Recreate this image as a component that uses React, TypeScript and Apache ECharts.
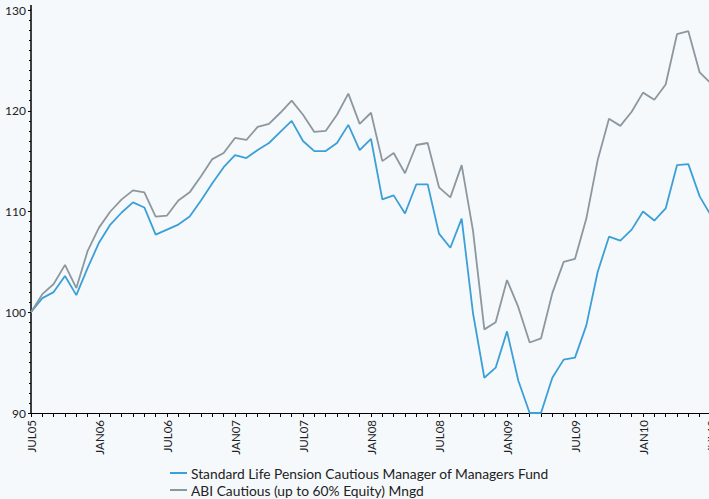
import React, { useEffect, useRef } from "react";
import * as echarts from "echarts";

const MONTHS = ["JAN", "FEB", "MAR", "APR", "MAY", "JUN", "JUL", "AUG", "SEP", "OCT", "NOV", "DEC"];
const categories: string[] = [];
for (let i = 0; i < 61; i++) {
  const m = (6 + i) % 12;
  const y = 5 + Math.floor((6 + i) / 12);
  categories.push(MONTHS[m] + String(y).padStart(2, "0"));
}

const seriesNames = [
  "Standard Life Pension Cautious Manager of Managers Fund",
  "ABI Cautious (up to 60% Equity) Mngd",
];

const standardLife = [
  100.0, 101.4, 102.0, 103.6, 101.7, 104.4, 106.9, 108.7, 109.9, 110.9, 110.4, 107.7,
  108.2, 108.7, 109.5, 111.1, 112.8, 114.4, 115.6, 115.3, 116.1, 116.8, 117.9, 119.0,
  117.0, 116.0, 116.0, 116.8, 118.6, 116.1, 117.2, 111.2, 111.6, 109.8, 112.7, 112.7,
  107.8, 106.4, 109.3, 99.9, 93.5, 94.5, 98.1, 93.2, 90.0, 90.0, 93.5, 95.3,
  95.5, 98.7, 104.0, 107.5, 107.1, 108.2, 110.0, 109.1, 110.3, 114.6, 114.7, 111.5,
  109.6,
];

const abiCautious = [
  100.0, 101.8, 102.8, 104.7, 102.4, 106.1, 108.4, 110.0, 111.2, 112.1, 111.9, 109.5,
  109.6, 111.1, 111.9, 113.5, 115.2, 115.8, 117.3, 117.1, 118.4, 118.7, 119.8, 121.0,
  119.6, 117.9, 118.0, 119.6, 121.7, 118.7, 119.8, 115.0, 115.8, 113.8, 116.6, 116.8,
  112.4, 111.4, 114.6, 108.1, 98.3, 99.0, 103.2, 100.5, 97.0, 97.4, 101.9, 105.0,
  105.3, 109.3, 115.1, 119.2, 118.5, 119.9, 121.8, 121.1, 122.6, 127.6, 127.9, 123.8,
  122.7,
];

const yTicks = { min: 90, max: 130, interval: 10 };

const BLUE = "#3c9fd7";
const GRAY = "#8c979f";
const BG = "#f5f9fc";
const FONT = "Lato, 'Open Sans', sans-serif";

export default function App() {
  const ref = useRef<HTMLDivElement>(null);
  useEffect(() => {
    if (!ref.current) return;
    const chart = echarts.init(ref.current, null, { renderer: "svg" });
    chart.setOption({
      animation: false,
      backgroundColor: BG,
      textStyle: { fontFamily: FONT },
      grid: { left: 31, top: 10, right: -2, bottom: 86, containLabel: false, outerBoundsMode: "none" },
      legend: {
        orient: "vertical",
        left: 170,
        bottom: 2,
        padding: 0,
        itemWidth: 17,
        itemHeight: 2,
        itemGap: 3,
        icon: "rect",
        textStyle: { fontFamily: FONT, fontSize: 13.8, color: "#222", padding: [0, 0, 0, -1] },
        data: seriesNames,
      },
      xAxis: {
        type: "category",
        data: categories,
        boundaryGap: false,
        axisLine: { lineStyle: { color: "#000", width: 1.2 } },
        axisTick: { interval: 0, length: 4, lineStyle: { color: "#000", width: 1 } },
        axisLabel: {
          interval: 5,
          rotate: 90,
          margin: 7,
          fontSize: 11.5,
          color: "#222",
          fontFamily: FONT,
        },
        splitLine: { show: false },
      },
      yAxis: {
        type: "value",
        min: yTicks.min,
        max: yTicks.max,
        interval: yTicks.interval,
        axisLine: { show: true, lineStyle: { color: "#000", width: 1.5 } },
        axisTick: { show: true, length: 3, lineStyle: { color: "#000" } },
        minorTick: { show: true, splitNumber: 10, length: 2, lineStyle: { color: "#000" } },
        axisLabel: { fontSize: 12, color: "#222", margin: 5, fontFamily: FONT },
        splitLine: { show: false },
      },
      graphic: [
        {
          type: "line",
          shape: { x1: 31, y1: 5, x2: 31, y2: 10 },
          style: { stroke: "#000", lineWidth: 1.5 },
        },
      ],
      series: [
        {
          name: seriesNames[0],
          type: "line",
          data: standardLife,
          symbol: "none",
          lineStyle: { color: BLUE, width: 1.8 },
          itemStyle: { color: BLUE },
        },
        {
          name: seriesNames[1],
          type: "line",
          data: abiCautious,
          symbol: "none",
          lineStyle: { color: GRAY, width: 1.8 },
          itemStyle: { color: GRAY },
        },
      ],
    });
    return () => chart.dispose();
  }, []);
  return <div ref={ref} style={{ width: 709, height: 499, position: "absolute", left: 0, top: 0 }} />;
}
